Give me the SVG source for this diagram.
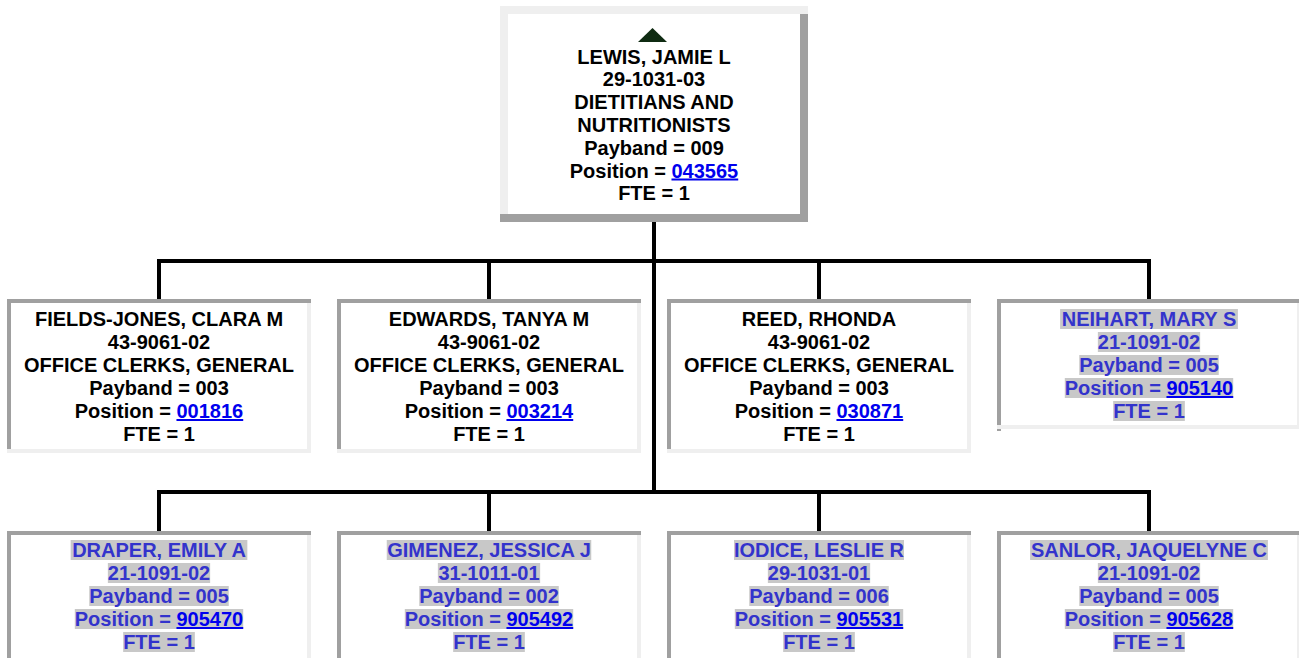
<svg xmlns="http://www.w3.org/2000/svg" width="1299" height="658" viewBox="0 0 1299 658">
<style>
.t{font-family:"Liberation Sans",Arial,sans-serif;font-weight:bold;font-size:20px;text-anchor:middle;fill:#000}
.h{fill:#3333cc}
.lk{fill:#0000ee;text-decoration:underline}
.bg{fill:#c8c8c8}
.dk{fill:#a0a0a0}
.lt{fill:#efefef}
.wh{fill:#ffffff}
.ln{fill:#000}
</style>
<rect width="1299" height="658" fill="#fff"/>
<g id="connectors">
<rect class="ln" x="652" y="222" width="4" height="272"/>
<rect class="ln" x="157" y="259" width="994" height="4"/>
<rect class="ln" x="157" y="259" width="4" height="40"/>
<rect class="ln" x="487" y="259" width="4" height="40"/>
<rect class="ln" x="817" y="259" width="4" height="40"/>
<rect class="ln" x="1147" y="259" width="4" height="40"/>
<rect class="ln" x="157" y="490" width="994" height="4"/>
<rect class="ln" x="157" y="490" width="4" height="41"/>
<rect class="ln" x="487" y="490" width="4" height="41"/>
<rect class="ln" x="817" y="490" width="4" height="41"/>
<rect class="ln" x="1147" y="490" width="4" height="41"/>
</g>
<g id="lewis">
<rect class="wh" x="500" y="6" width="308" height="216"/>
<rect class="lt" x="500" y="6" width="308" height="8"/>
<rect class="lt" x="500" y="14" width="8" height="200"/>
<rect class="dk" x="800" y="14" width="8" height="200"/>
<rect class="dk" x="500" y="214" width="308" height="8"/>
<polygon points="638,42 667,42 652.5,28" fill="#0f2b12"/>
<text class="t" x="654" y="63.5">LEWIS, JAMIE L</text>
<text class="t" x="654" y="86.3">29-1031-03</text>
<text class="t" x="654" y="109.1">DIETITIANS AND</text>
<text class="t" x="654" y="131.9">NUTRITIONISTS</text>
<text class="t" x="654" y="154.7">Payband = 009</text>
<text class="t" x="654" y="177.5">Position = <tspan class="lk">043565</tspan></text>
<text class="t" x="654" y="200.3">FTE = 1</text>
</g>
<g id="fields-jones">
<rect class="wh" x="7" y="299" width="304" height="154"/>
<rect class="dk" x="7" y="299" width="304" height="4"/>
<rect class="dk" x="7" y="303" width="4" height="146"/>
<rect class="lt" x="307" y="303" width="4" height="146"/>
<rect class="lt" x="7" y="449" width="304" height="4"/>
<text class="t" x="159" y="326">FIELDS-JONES, CLARA M</text>
<text class="t" x="159" y="349">43-9061-02</text>
<text class="t" x="159" y="372">OFFICE CLERKS, GENERAL</text>
<text class="t" x="159" y="395">Payband = 003</text>
<text class="t" x="159" y="418">Position = <tspan class="lk">001816</tspan></text>
<text class="t" x="159" y="441">FTE = 1</text>
</g>
<g id="edwards">
<rect class="wh" x="337" y="299" width="304" height="154"/>
<rect class="dk" x="337" y="299" width="304" height="4"/>
<rect class="dk" x="337" y="303" width="4" height="146"/>
<rect class="lt" x="637" y="303" width="4" height="146"/>
<rect class="lt" x="337" y="449" width="304" height="4"/>
<text class="t" x="489" y="326">EDWARDS, TANYA M</text>
<text class="t" x="489" y="349">43-9061-02</text>
<text class="t" x="489" y="372">OFFICE CLERKS, GENERAL</text>
<text class="t" x="489" y="395">Payband = 003</text>
<text class="t" x="489" y="418">Position = <tspan class="lk">003214</tspan></text>
<text class="t" x="489" y="441">FTE = 1</text>
</g>
<g id="reed">
<rect class="wh" x="667" y="299" width="304" height="154"/>
<rect class="dk" x="667" y="299" width="304" height="4"/>
<rect class="dk" x="667" y="303" width="4" height="146"/>
<rect class="lt" x="967" y="303" width="4" height="146"/>
<rect class="lt" x="667" y="449" width="304" height="4"/>
<text class="t" x="819" y="326">REED, RHONDA</text>
<text class="t" x="819" y="349">43-9061-02</text>
<text class="t" x="819" y="372">OFFICE CLERKS, GENERAL</text>
<text class="t" x="819" y="395">Payband = 003</text>
<text class="t" x="819" y="418">Position = <tspan class="lk">030871</tspan></text>
<text class="t" x="819" y="441">FTE = 1</text>
</g>
<g id="neihart">
<rect class="wh" x="997" y="299" width="304" height="130"/>
<rect class="dk" x="997" y="299" width="304" height="4"/>
<rect class="dk" x="997" y="303" width="4" height="122"/>
<rect class="lt" x="1297" y="303" width="4" height="122"/>
<rect class="lt" x="997" y="425" width="304" height="4"/>
<rect class="dk" x="997" y="429" width="4" height="2"/>
<rect class="bg" x="1060.1" y="309" width="177.8" height="20"/>
<rect class="bg" x="1097.85" y="332" width="102.3" height="20"/>
<rect class="bg" x="1079.25" y="355" width="139.5" height="20"/>
<rect class="bg" x="1064.8" y="378" width="168.4" height="20"/>
<rect class="bg" x="1113.15" y="401" width="71.7" height="20"/>
<text class="t h" x="1149" y="326">NEIHART, MARY S</text>
<text class="t h" x="1149" y="349">21-1091-02</text>
<text class="t h" x="1149" y="372">Payband = 005</text>
<text class="t h" x="1149" y="395">Position = <tspan class="lk">905140</tspan></text>
<text class="t h" x="1149" y="418">FTE = 1</text>
</g>
<g id="draper">
<rect class="wh" x="7" y="531" width="304" height="140"/>
<rect class="dk" x="7" y="531" width="304" height="4"/>
<rect class="dk" x="7" y="535" width="4" height="136"/>
<rect class="lt" x="307" y="535" width="4" height="136"/>
<rect class="bg" x="70.65" y="540" width="176.7" height="20"/>
<rect class="bg" x="107.85" y="563" width="102.3" height="20"/>
<rect class="bg" x="89.25" y="586" width="139.5" height="20"/>
<rect class="bg" x="74.8" y="609" width="168.4" height="20"/>
<rect class="bg" x="123.15" y="632" width="71.7" height="20"/>
<text class="t h" x="159" y="557">DRAPER, EMILY A</text>
<text class="t h" x="159" y="580">21-1091-02</text>
<text class="t h" x="159" y="603">Payband = 005</text>
<text class="t h" x="159" y="626">Position = <tspan class="lk">905470</tspan></text>
<text class="t h" x="159" y="649">FTE = 1</text>
</g>
<g id="gimenez">
<rect class="wh" x="337" y="531" width="304" height="140"/>
<rect class="dk" x="337" y="531" width="304" height="4"/>
<rect class="dk" x="337" y="535" width="4" height="136"/>
<rect class="lt" x="637" y="535" width="4" height="136"/>
<rect class="bg" x="386.75" y="540" width="204.5" height="20"/>
<rect class="bg" x="437.85" y="563" width="102.3" height="20"/>
<rect class="bg" x="419.25" y="586" width="139.5" height="20"/>
<rect class="bg" x="404.8" y="609" width="168.4" height="20"/>
<rect class="bg" x="453.15" y="632" width="71.7" height="20"/>
<text class="t h" x="489" y="557">GIMENEZ, JESSICA J</text>
<text class="t h" x="489" y="580">31-1011-01</text>
<text class="t h" x="489" y="603">Payband = 002</text>
<text class="t h" x="489" y="626">Position = <tspan class="lk">905492</tspan></text>
<text class="t h" x="489" y="649">FTE = 1</text>
</g>
<g id="iodice">
<rect class="wh" x="667" y="531" width="304" height="140"/>
<rect class="dk" x="667" y="531" width="304" height="4"/>
<rect class="dk" x="667" y="535" width="4" height="136"/>
<rect class="lt" x="967" y="535" width="4" height="136"/>
<rect class="bg" x="734" y="540" width="170" height="20"/>
<rect class="bg" x="767.85" y="563" width="102.3" height="20"/>
<rect class="bg" x="749.25" y="586" width="139.5" height="20"/>
<rect class="bg" x="734.8" y="609" width="168.4" height="20"/>
<rect class="bg" x="783.15" y="632" width="71.7" height="20"/>
<text class="t h" x="819" y="557">IODICE, LESLIE R</text>
<text class="t h" x="819" y="580">29-1031-01</text>
<text class="t h" x="819" y="603">Payband = 006</text>
<text class="t h" x="819" y="626">Position = <tspan class="lk">905531</tspan></text>
<text class="t h" x="819" y="649">FTE = 1</text>
</g>
<g id="sanlor">
<rect class="wh" x="997" y="531" width="304" height="140"/>
<rect class="dk" x="997" y="531" width="304" height="4"/>
<rect class="dk" x="997" y="535" width="4" height="136"/>
<rect class="lt" x="1297" y="535" width="4" height="136"/>
<rect class="bg" x="1030.1" y="540" width="237.8" height="20"/>
<rect class="bg" x="1097.85" y="563" width="102.3" height="20"/>
<rect class="bg" x="1079.25" y="586" width="139.5" height="20"/>
<rect class="bg" x="1064.8" y="609" width="168.4" height="20"/>
<rect class="bg" x="1113.15" y="632" width="71.7" height="20"/>
<text class="t h" x="1149" y="557">SANLOR, JAQUELYNE C</text>
<text class="t h" x="1149" y="580">21-1091-02</text>
<text class="t h" x="1149" y="603">Payband = 005</text>
<text class="t h" x="1149" y="626">Position = <tspan class="lk">905628</tspan></text>
<text class="t h" x="1149" y="649">FTE = 1</text>
</g>
</svg>
